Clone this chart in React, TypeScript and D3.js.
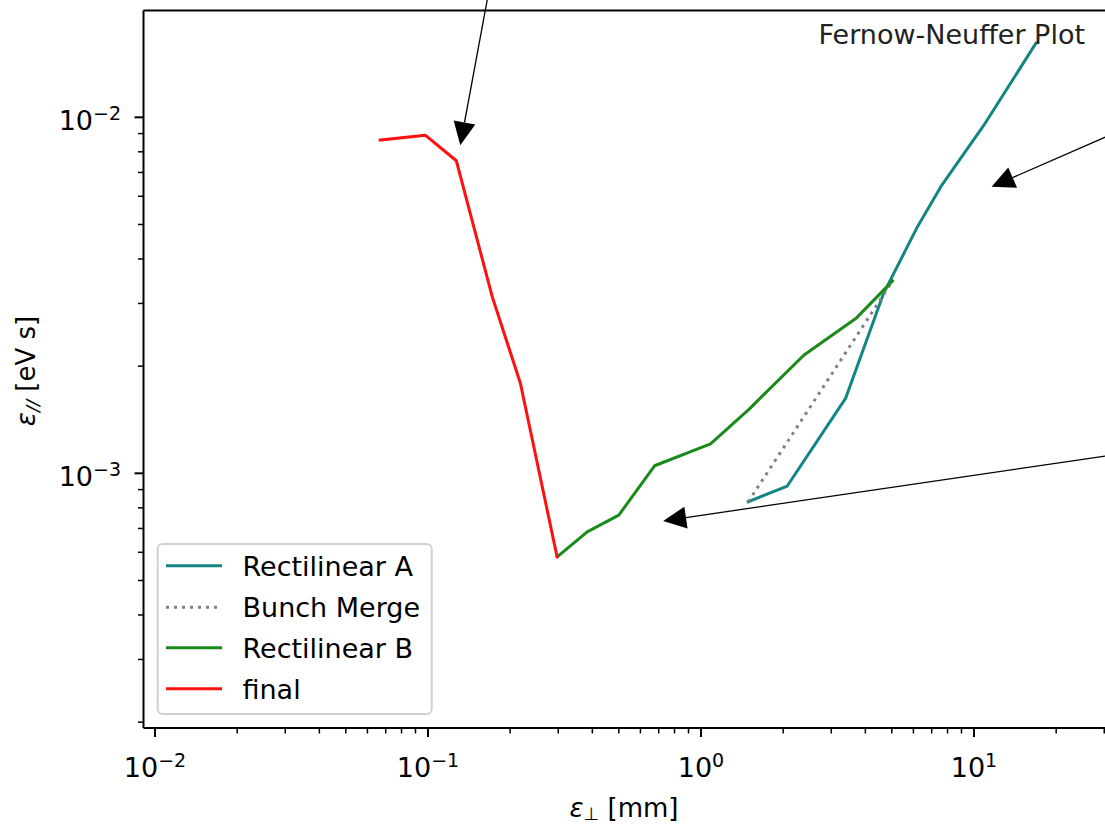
import React from "react";
import * as d3 from "d3";

// ---- data ----
const rectAX = [1.49, 2.07, 3.39, 4.67, 6.21, 7.56, 10.87, 16.87];
const rectAY = [0.000832, 0.000921, 0.001627, 0.003208, 0.004929, 0.006383, 0.0095, 0.01615];
const mergeX = [1.49, 5.03];
const mergeY = [0.000832, 0.00347];
const rectBX = [0.298, 0.383, 0.5, 0.676, 1.084, 1.495, 2.385, 3.69, 5.03];
const rectBY = [0.000583, 0.000685, 0.000763, 0.00105, 0.00121, 0.00151, 0.00215, 0.00272, 0.00347];
const finalX = [0.0668, 0.0977, 0.127, 0.172, 0.218, 0.297];
const finalY = [0.00863, 0.00891, 0.00755, 0.00313, 0.00179, 0.000583];

const seriesNames = ["Rectilinear A", "Bunch Merge", "Rectilinear B", "final"];
const xMajorExps = [-2, -1, 0, 1];
const yMajorExps = [-3, -2];

// annotation arrows: tail (text position, outside view) -> tip
const arrowTailX = [0.17, 37.6, 37.6];
const arrowTailY = [0.0243, 0.00946, 0.001146];
const arrowTipX = [0.1313, 11.6, 0.727];
const arrowTipY = [0.00835, 0.00638, 0.000735];

const title = "Fernow-Neuffer Plot";

const W = 1105, H = 826;
const L = 143.5, R = 1105, T = 10.5, B = 728;

export default function App() {
  const x = d3.scaleLog().domain([Math.pow(10, -2.0421), Math.pow(10, 1.4799)]).range([L, R]);
  const y = d3.scaleLog().domain([Math.pow(10, -3.7154), Math.pow(10, -1.7)]).range([B, T]);

  const line = d3.line<[number, number]>().x(d => x(d[0])).y(d => y(d[1]));
  const zip = (a: number[], b: number[]) => a.map((v, i) => [v, b[i]] as [number, number]);

  const series = [
    { name: seriesNames[0], d: zip(rectAX, rectAY), color: "#138585", dash: undefined },
    { name: seriesNames[1], d: zip(mergeX, mergeY), color: "#808080", dash: "3 5" },
    { name: seriesNames[2], d: zip(rectBX, rectBY), color: "#1a8a1a", dash: undefined },
    { name: seriesNames[3], d: zip(finalX, finalY), color: "#ff1010", dash: undefined },
  ];

  const font = "DejaVu Sans, sans-serif";
  const fs = 27;
  const sup = 19;

  // minor ticks
  const xMinor: number[] = [];
  for (let e = -3; e <= 1; e++) for (let m = 2; m <= 9; m++) {
    const v = m * Math.pow(10, e);
    if (v >= x.domain()[0] && v <= x.domain()[1]) xMinor.push(v);
  }
  const yMinor: number[] = [];
  for (let e = -4; e <= -2; e++) for (let m = 2; m <= 9; m++) {
    const v = m * Math.pow(10, e);
    if (v >= y.domain()[0] && v <= y.domain()[1]) yMinor.push(v);
  }

  const arrows = arrowTipX.map((tx, i) => {
    const x1 = x(arrowTailX[i]), y1 = y(arrowTailY[i]);
    const x2 = x(tx), y2 = y(arrowTipY[i]);
    const dx = x2 - x1, dy = y2 - y1;
    const len = Math.hypot(dx, dy);
    const ux = dx / len, uy = dy / len;
    const hl = 23, hw = 11;
    const bx = x2 - ux * hl, by = y2 - uy * hl;
    const px = -uy * hw, py = ux * hw;
    return { x1, y1, bx, by, pts: `${x2},${y2} ${bx + px},${by + py} ${bx - px},${by - py}` };
  });

  const legX = 157.7, legY = 544, legW = 274, legH = 170;
  const rowY = [565.7, 607.3, 647.7, 688.7];

  return (
    <svg width={W} height={H} style={{ position: "absolute", left: 0, top: 0, background: "#fff" }} fontFamily={font}>
      <defs>
        <clipPath id="plotclip"><rect x={L} y={T} width={R - L + 5} height={B - T} /></clipPath>
      </defs>
      <rect x={0} y={0} width={W} height={H} fill="#fff" />

      {/* data lines */}
      <g clipPath="url(#plotclip)">
        {series.map(s => (
          <path key={s.name} d={line(s.d) || ""} fill="none" stroke={s.color} strokeWidth={3}
            strokeDasharray={s.dash} strokeLinejoin="round" strokeLinecap={s.dash ? "butt" : "square"} />
        ))}
      </g>

      {/* spines */}
      <line x1={L} x2={L} y1={T} y2={B} stroke="#000" strokeWidth={2} />
      <line x1={L} x2={R + 2} y1={B} y2={B} stroke="#000" strokeWidth={2} />
      <line x1={L} x2={R + 2} y1={T} y2={T} stroke="#000" strokeWidth={2} />
      <line x1={R + 1} x2={R + 1} y1={T} y2={B} stroke="#000" strokeWidth={2} />

      {/* x ticks */}
      {xMinor.map(v => (
        <line key={"xm" + v} x1={x(v)} x2={x(v)} y1={B} y2={B + 5.5} stroke="#000" strokeWidth={1.5} />
      ))}
      {xMajorExps.map(e => (
        <g key={"xM" + e}>
          <line x1={x(Math.pow(10, e))} x2={x(Math.pow(10, e))} y1={B} y2={B + 9} stroke="#000" strokeWidth={2} />
          <text x={x(Math.pow(10, e))} y={777} textAnchor="middle" fontSize={fs} fill="#000">
            10<tspan fontSize={sup} dy={-10}>{e < 0 ? "\u2212" + Math.abs(e) : String(e)}</tspan>
          </text>
        </g>
      ))}

      {/* y ticks */}
      {yMinor.map(v => (
        <line key={"ym" + v} x1={L - 5.5} x2={L} y1={y(v)} y2={y(v)} stroke="#000" strokeWidth={1.5} />
      ))}
      {yMajorExps.map(e => (
        <g key={"yM" + e}>
          <line x1={L - 9} x2={L} y1={y(Math.pow(10, e))} y2={y(Math.pow(10, e))} stroke="#000" strokeWidth={2} />
          <text x={121} y={y(Math.pow(10, e)) + 13} textAnchor="end" fontSize={fs} fill="#000">
            10<tspan fontSize={sup} dy={-10}>{"\u2212" + Math.abs(e)}</tspan>
          </text>
        </g>
      ))}

      {/* axis labels */}
      <text x={624} y={817} textAnchor="middle" fontSize={26} fill="#000">
        <tspan fontStyle="italic">ε</tspan><tspan fontSize={18} dy={3}>⊥</tspan><tspan dy={-3}> [mm]</tspan>
      </text>
      <text transform={`translate(35,371) rotate(-90)`} textAnchor="middle" fontSize={26} fill="#000">
        <tspan fontStyle="italic">ε</tspan><tspan fontSize={18} fontStyle="italic" dy={4}>//</tspan><tspan dy={-4}> [eV s]</tspan>
      </text>

      {/* title */}
      <text x={1085} y={44} textAnchor="end" fontSize={27} fill="#222">{title}</text>

      {/* arrows */}
      {arrows.map((a, i) => (
        <g key={"ar" + i}>
          <line x1={a.x1} y1={a.y1} x2={a.bx} y2={a.by} stroke="#000" strokeWidth={1.3} />
          <polygon points={a.pts} fill="#000" />
        </g>
      ))}

      {/* legend */}
      <rect x={legX} y={legY} width={legW} height={legH} rx={5} ry={5} fill="#fff" fillOpacity={0.8} stroke="#d0d0d0" strokeWidth={2} />
      {series.map((s, i) => (
        <g key={"lg" + i}>
          <line x1={166} x2={222} y1={rowY[i]} y2={rowY[i]} stroke={s.color} strokeWidth={3} strokeDasharray={s.dash} />
          <text x={242.5} y={rowY[i] + 10} fontSize={fs} fill="#000">{s.name}</text>
        </g>
      ))}
    </svg>
  );
}
